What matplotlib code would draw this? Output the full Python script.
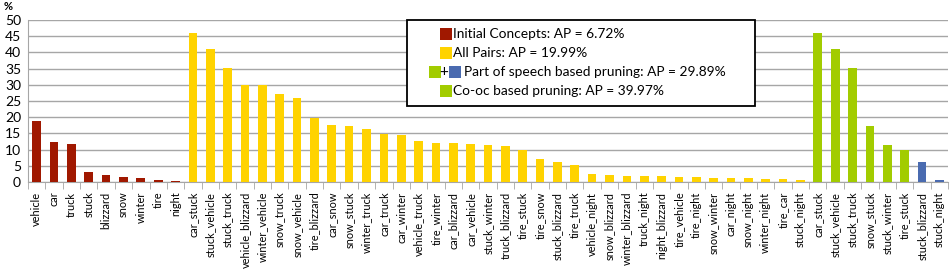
import matplotlib.pyplot as plt
from matplotlib.patches import Rectangle

plt.rcParams['font.family'] = ['Lato', 'DejaVu Sans']

# initial concepts (red)
concepts = ['vehicle', 'car', 'truck', 'stuck', 'blizzard', 'snow', 'winter', 'tire', 'night']
concept_vals = [18.7, 12.3, 11.6, 3.2, 2.1, 1.6, 1.1, 0.6, 0.4]

# all pairs (yellow)
pairs = ['car_stuck', 'stuck_vehicle', 'stuck_truck', 'vehicle_blizzard', 'winter_vehicle',
         'snow_truck', 'snow_vehicle', 'tire_blizzard', 'car_snow', 'snow_stuck',
         'winter_truck', 'car_truck', 'car_winter', 'vehicle_truck', 'tire_winter',
         'car_blizzard', 'car_vehicle', 'stuck_winter', 'truck_blizzard', 'tire_stuck',
         'tire_snow', 'stuck_blizzard', 'tire_truck', 'vehicle_night', 'snow_blizzard',
         'winter_blizzard', 'truck_night', 'night_blizzard', 'tire_vehicle', 'tire_night',
         'snow_winter', 'car_night', 'snow_night', 'winter_night', 'tire_car', 'stuck_night']
pair_vals = [46.0, 41.2, 35.3, 30.0, 29.8, 27.2, 26.0, 19.9, 17.7, 17.4,
             16.3, 14.9, 14.6, 12.8, 12.1, 12.1, 11.8, 11.4, 11.1, 9.9,
             7.0, 6.1, 5.2, 2.4, 2.1, 1.9, 1.9, 1.9, 1.6, 1.4,
             1.3, 1.2, 1.1, 0.9, 0.9, 0.6]

# co-oc based pruning (green) and part of speech extras (blue)
cooc = ['car_stuck', 'stuck_vehicle', 'stuck_truck', 'snow_stuck', 'stuck_winter', 'tire_stuck']
cooc_vals = [45.9, 41.2, 35.3, 17.4, 11.5, 10.0]
pos = ['stuck_blizzard', 'stuck_night']
pos_vals = [6.1, 0.7]

RED = '#A01800'
YELLOW = '#FFD300'
GREEN = '#A2CC00'
BLUE = '#4A6BB0'

labels = concepts + pairs + cooc + pos
values = concept_vals + pair_vals + cooc_vals + pos_vals
colors = [RED] * len(concepts) + [YELLOW] * len(pairs) + [GREEN] * len(cooc) + [BLUE] * len(pos)
x = list(range(len(labels)))

fig = plt.figure(figsize=(9.51, 2.74), dpi=100)
ax = fig.add_axes([28 / 951, 92 / 274, 920 / 951, 162 / 274])

ax.bar(x, values, width=0.5, color=colors, zorder=3)

ax.set_xlim(-0.5, len(labels) - 0.5)
ax.set_ylim(0, 50)
ax.set_yticks(range(0, 51, 5))
ax.yaxis.grid(True, color='#A6A6A6', linewidth=1.0, zorder=0)
ax.tick_params(axis='y', length=0, labelsize=10, pad=5)

ax.set_xticks(x)
ax.set_xticklabels(labels, rotation=90, fontsize=7.9)
ax.tick_params(axis='x', which='major', length=0, pad=7)
ax.set_xticks([i + 0.5 for i in range(-1, len(labels))], minor=True)
ax.tick_params(axis='x', which='minor', length=5, color='#A6A6A6', direction='out')

for s in ['top', 'right']:
    ax.spines[s].set_visible(False)
for s in ['left', 'bottom']:
    ax.spines[s].set_color('#A6A6A6')

fig.text(4 / 951, 1 - 7 / 274, '%', fontsize=8, fontweight='bold', va='center')

# legend drawn by hand (pixel coordinates, y from top)
def px(xp, yp):
    return xp / 951, 1 - yp / 274

box_x0, box_y0, box_x1, box_y1 = 407, 20, 755, 106
fig.patches.append(Rectangle(px(box_x0, box_y1), (box_x1 - box_x0) / 951, (box_y1 - box_y0) / 274,
                             transform=fig.transFigure, facecolor='white', edgecolor='black',
                             linewidth=1.3, zorder=5))

def square(xp, yc, color):
    fig.patches.append(Rectangle(px(xp, yc + 6), 12 / 951, 12 / 274, transform=fig.transFigure,
                                 facecolor=color, edgecolor='none', zorder=6))

rows = [
    (34, [(440, RED)], 453, 'Initial Concepts: AP = 6.72%'),
    (53, [(440, YELLOW)], 453, 'All Pairs: AP = 19.99%'),
    (72, [(429, GREEN), (449, BLUE)], 464, 'Part of speech based pruning: AP = 29.89%'),
    (91, [(440, GREEN)], 453, 'Co-oc based pruning: AP = 39.97%'),
]
for yc, squares, tx, txt in rows:
    for sx, c in squares:
        square(sx, yc, c)
    if len(squares) == 2:
        fig.text(*px(443.5, yc), '+', fontsize=11, ha='center', va='center', zorder=7)
    fig.text(*px(tx, yc), txt, fontsize=9.9, ha='left', va='center', zorder=7)

fig.savefig('out.png', dpi=100)
